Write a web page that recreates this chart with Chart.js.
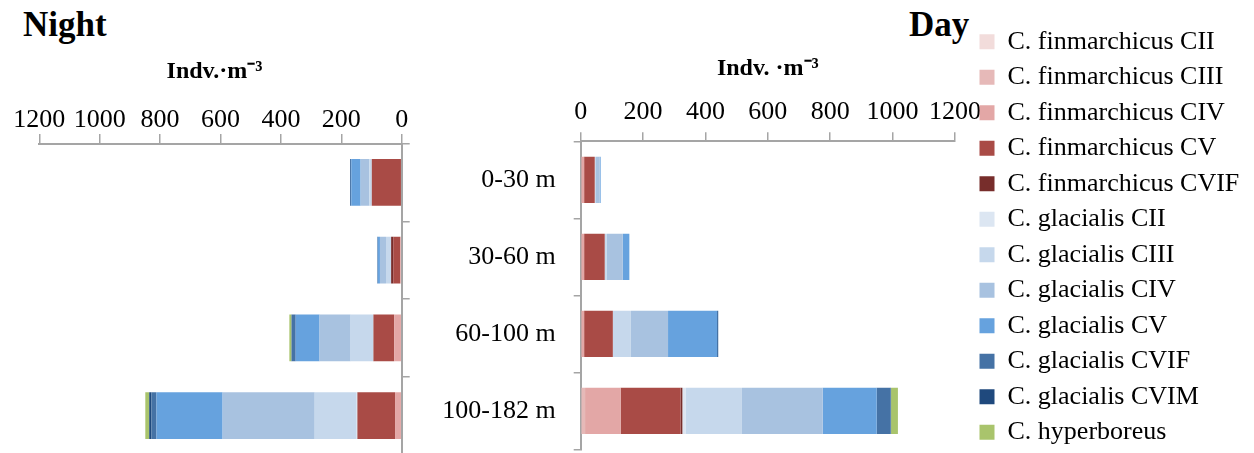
<!DOCTYPE html>
<html><head><meta charset="utf-8">
<script src="https://cdn.jsdelivr.net/npm/chart.js@4/dist/chart.umd.min.js"></script>
<style>
html,body{margin:0;padding:0;background:#fff;width:1254px;height:453px;overflow:hidden;position:relative;font-family:'Liberation Serif',serif;}
canvas{position:absolute;}
#cNight{left:0;top:0;}
#cDay{left:420px;top:0;}
#cLegend{left:970px;top:0;}
.ttl{position:absolute;font-weight:bold;font-size:35px;line-height:35px;color:#000;white-space:nowrap;font-family:'Liberation Serif',serif;}
</style></head><body>
<div class="ttl" style="left:23px;top:7px">Night</div>
<div class="ttl" style="left:909px;top:7px">Day</div>
<canvas id="cNight" width="430" height="460"></canvas>
<canvas id="cDay" width="570" height="453"></canvas>
<canvas id="cLegend" width="284" height="470"></canvas>
<script>
// ---- data ----
const categories = ['0-30 m', '30-60 m', '60-100 m', '100-182 m'];
const xTickValues = [0, 200, 400, 600, 800, 1000, 1200];
const seriesNames = ['C. finmarchicus CII', 'C. finmarchicus CIII', 'C. finmarchicus CIV', 'C. finmarchicus CV', 'C. finmarchicus CVIF',
  'C. glacialis CII', 'C. glacialis CIII', 'C. glacialis CIV', 'C. glacialis CV', 'C. glacialis CVIF', 'C. glacialis CVIM', 'C. hyperboreus'];
const seriesColors = ['#F2DCDB', '#E6B9B8', '#E3A7A6', '#A94B46', '#772D2B',
  '#DCE6F2', '#C6D8EC', '#A8C2E0', '#66A2DE', '#4572A5', '#1F497D', '#A9C46C'];

// Night (Indv. m-3), per depth layer: 0-30, 30-60, 60-100, 100-182 m
const nightFinCII   = [0, 0, 0, 0];
const nightFinCIII  = [0, 0, 0, 0];
const nightFinCIV   = [0, 5, 25, 22];
const nightFinCV    = [99, 23, 68, 124];
const nightFinCVIF  = [0, 7, 1, 1];
const nightGlaCII   = [0, 0, 1, 2];
const nightGlaCIII  = [8, 17, 74, 139];
const nightGlaCIV   = [29, 20, 103, 305];
const nightGlaCV    = [31, 7, 79, 219];
const nightGlaCVIF  = [4, 2, 13, 17];
const nightGlaCVIM  = [0, 0, 1, 7];
const nightHyper    = [0, 0, 7, 13];

// Day
const dayFinCII   = [0, 0, 0, 0];
const dayFinCIII  = [0, 0, 0, 14];
const dayFinCIV   = [11, 11, 11, 114];
const dayFinCV    = [34, 66, 92, 192];
const dayFinCVIF  = [0, 0, 0, 6];
const dayGlaCII   = [0, 0, 0, 11];
const dayGlaCIII  = [4, 7, 58, 180];
const dayGlaCIV   = [12, 51, 119, 259];
const dayGlaCV    = [3, 21, 157, 173];
const dayGlaCVIF  = [0, 0, 4, 45];
const dayGlaCVIM  = [0, 0, 0, 1];
const dayHyper    = [0, 0, 0, 22];

const nightSeries = [nightFinCII, nightFinCIII, nightFinCIV, nightFinCV, nightFinCVIF, nightGlaCII, nightGlaCIII, nightGlaCIV, nightGlaCV, nightGlaCVIF, nightGlaCVIM, nightHyper];
const daySeries = [dayFinCII, dayFinCIII, dayFinCIV, dayFinCV, dayFinCVIF, dayGlaCII, dayGlaCIII, dayGlaCIV, dayGlaCV, dayGlaCVIF, dayGlaCVIM, dayHyper];

// ---- styling ----
const FONT = 'Liberation Serif';
const AXIS = '#A5A5A5';
Chart.defaults.font.family = FONT;
Chart.defaults.color = '#000';

function makeDatasets(series) {
  return series.map((vals, i) => ({
    label: seriesNames[i], data: vals, backgroundColor: seriesColors[i],
    borderWidth: 0, barPercentage: 0.6, categoryPercentage: 1
  }));
}

function valueAxis(reverse, height, titleText, titlePadTop, tickPad, tickLen) {
  return {
    type: 'linear', position: 'top', stacked: true, reverse: reverse, min: 0, max: 1200,
    afterBuildTicks: s => { s.ticks = xTickValues.map(v => ({ value: v })); },
    afterFit: s => { s.height = height; },
    ticks: { autoSkip: false, maxRotation: 0, minRotation: 0, padding: tickPad, color: '#000',
      font: { family: FONT, size: 26, lineHeight: 1 }, callback: v => String(v) },
    grid: { drawOnChartArea: false, color: AXIS, lineWidth: 1.5, tickLength: tickLen },
    border: { color: AXIS, width: 2 },
    title: { display: true, text: titleText, color: '#000', padding: { top: titlePadTop, bottom: 0 },
      font: { family: FONT, size: 24, weight: 'bold', lineHeight: 1.2 } }
  };
}

new Chart(document.getElementById('cNight'), {
  type: 'bar',
  data: { labels: categories, datasets: makeDatasets(nightSeries) },
  options: {
    indexAxis: 'y', responsive: false, animation: false, devicePixelRatio: 1,
    layout: { padding: { left: 39.3, right: 19.3, top: 0, bottom: 5.5 } },
    plugins: { legend: { display: false }, tooltip: { enabled: false } },
    scales: {
      x: valueAxis(true, 143.5, 'Indv.·m⁻³\u2002', 57.6, 1, 9.5),
      y: { type: 'category', position: 'right', stacked: true, offset: true,
        afterFit: s => { s.width = 9; s.paddingTop = 0; s.paddingBottom = 0; },
        ticks: { display: false },
        grid: { offset: true, drawOnChartArea: false, color: AXIS, lineWidth: 1.5, tickLength: 8 },
        border: { color: AXIS, width: 2 } }
    }
  }
});

new Chart(document.getElementById('cDay'), {
  type: 'bar',
  data: { labels: categories, datasets: makeDatasets(daySeries) },
  options: {
    indexAxis: 'y', responsive: false, animation: false, devicePixelRatio: 1,
    layout: { padding: { left: 0, right: 35, top: 0, bottom: 3.5 } },
    plugins: { legend: { display: false }, tooltip: { enabled: false } },
    scales: {
      x: valueAxis(false, 141.3, 'Indv. ·m⁻³', 54.6, 6.8, 9),
      y: { type: 'category', position: 'left', stacked: true, offset: true,
        afterFit: s => { s.width = 160.7; s.paddingTop = 0; s.paddingBottom = 0; },
        ticks: { padding: 18, color: '#000', font: { family: FONT, size: 26, lineHeight: 1 } },
        grid: { offset: true, drawOnChartArea: false, color: AXIS, lineWidth: 1.5, tickLength: 7 },
        border: { color: AXIS, width: 2 } }
    }
  }
});

new Chart(document.getElementById('cLegend'), {
  type: 'bar',
  data: { labels: [], datasets: seriesNames.map((n, i) => ({ label: n, data: [], backgroundColor: seriesColors[i], borderWidth: 0 })) },
  options: {
    responsive: false, animation: false, devicePixelRatio: 1,
    layout: { padding: { left: 0, top: 19.2, right: 0, bottom: 0 } },
    scales: { x: { display: false }, y: { display: false } },
    plugins: {
      tooltip: { enabled: false },
      legend: { position: 'left', align: 'start', maxWidth: 284,
        labels: { boxWidth: 15, boxHeight: 15, padding: 9.5, color: '#000', font: { family: FONT, size: 26 } } }
    }
  }
});
</script>
</body></html>
